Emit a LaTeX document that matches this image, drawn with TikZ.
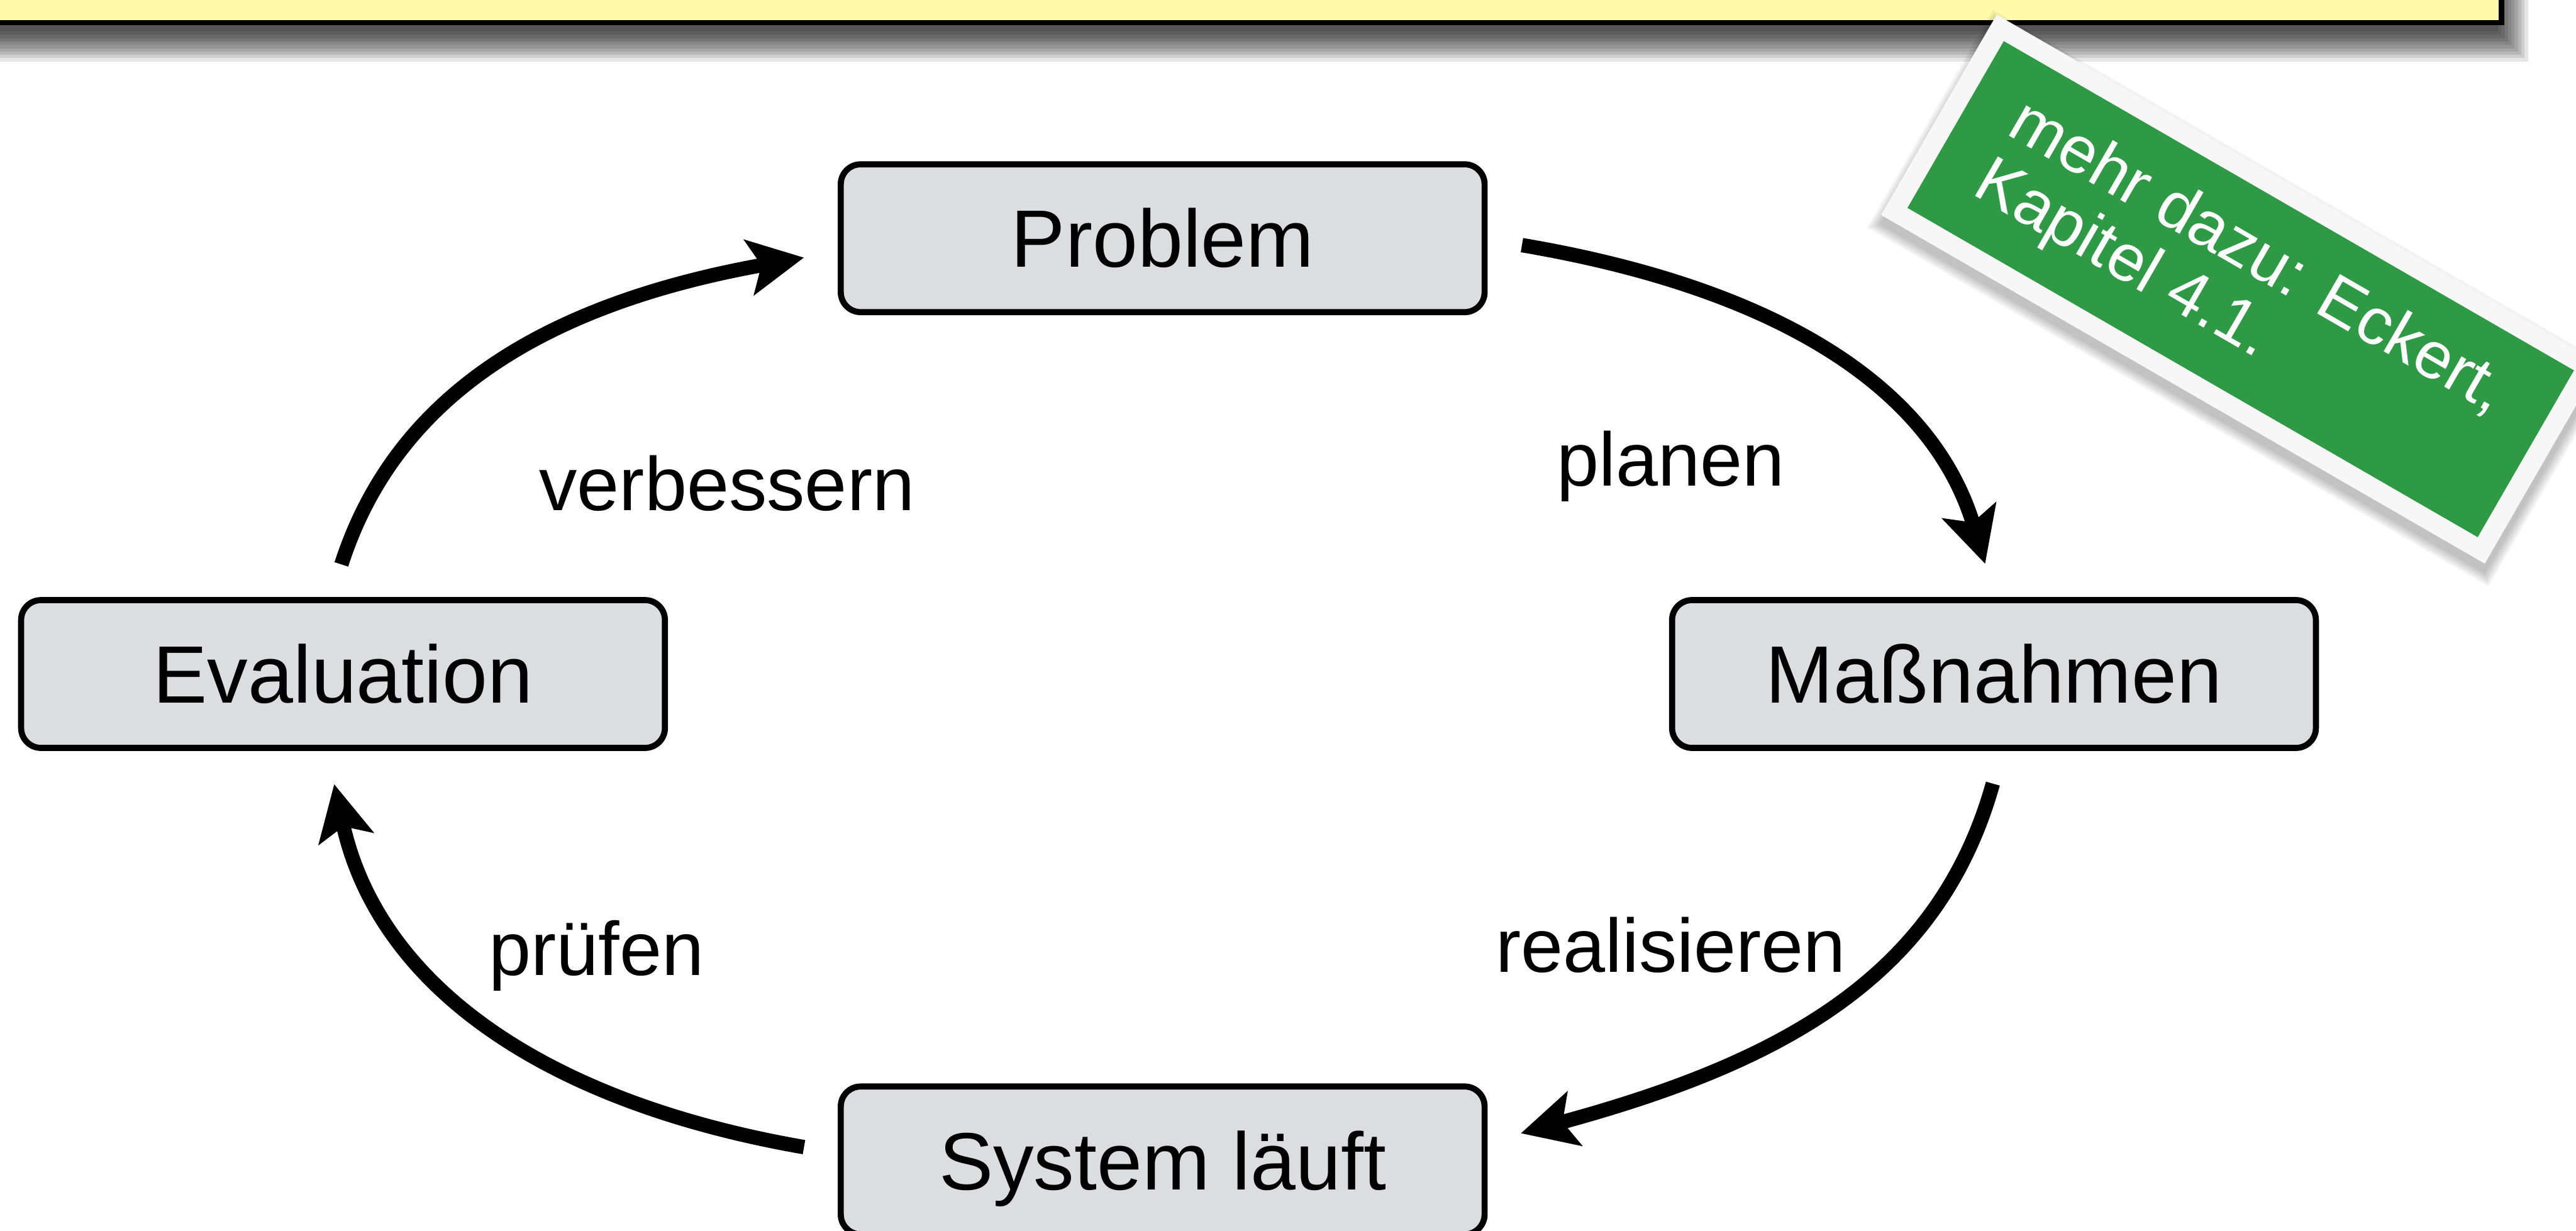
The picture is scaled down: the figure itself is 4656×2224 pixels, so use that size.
\documentclass[tikz,border=0pt]{standalone}
\usepackage{fontspec}
\setmainfont{Liberation Sans}
\usetikzlibrary{arrows.meta,calc}
\definecolor{noteyellow}{RGB}{255,251,170}
\definecolor{boxgray}{RGB}{220,221,223}
\definecolor{notegreen}{RGB}{46,154,69}
\begin{document}
\begin{tikzpicture}[x=0.01cm,y=-0.01cm,
  stepbox/.style={draw=black, line width=0.11cm, fill=boxgray, rounded corners=0.36cm,
    minimum width=11.63cm, minimum height=2.67cm, inner sep=0pt,
    font=\fontsize{41.8}{48}\selectfont, text height=1.05cm, text depth=0cm},
  lbl/.style={anchor=base, inner sep=0pt, font=\fontsize{39}{46}\selectfont},
  notetext/.style={anchor=base west, inner sep=0pt, text=white, rotate=-30,
    font=\fontsize{34}{35.6}\selectfont},
  arr/.style={line width=0.26cm, -{Stealth[length=1cm, width=1cm, inset=0.22cm]}}]
\useasboundingbox (0,0) rectangle (4656,2224);
\clip (0,0) rectangle (4656,2224);
\fill[white] (0,0) rectangle (4656,2224);

% yellow bar and its soft shadow
\foreach \s in {4,10,16,22,28,34,40,46,52,58}
  \fill[black, opacity=0.1] (-100,-100) rectangle (4511+\s,53+\s);
\fill[noteyellow] (-50,-50) rectangle (4521,41);
\draw[line width=0.1cm] (-50,41) -- (4521,41) -- (4521,-50);

% boxes
\node[stepbox] (prob) at (2101.5,430.5) {Problem};
\node[stepbox] (mass) at (3604,1218) {Maßnahmen};
\node[stepbox] (sys) at (2101.5,2097) {System läuft};
\node[stepbox] (eval) at (620,1218) {Evaluation};

% labels
\node[lbl] (lverb) at (1314,922) {verbessern};
\node[lbl] (lplan) at (3020,878) {planen};
\node[lbl] (lreal) at (3020,1757) {realisieren};
\node[lbl] (lpruf) at (1078,1763) {prüfen};

% arrows
\draw[arr] ($(prob.east)+(62,12.5)$) .. controls +(460,78) and +(-96,-320) .. ($(mass.north)+(-16,-60)$);
\draw[arr] ($(mass.south)+(-2,59)$) .. controls +(-98,350) and +(472,-128) .. ($(sys.east)+(60,-49)$);
\draw[arr] ($(sys.west)+(-61,-24)$) .. controls +(-470,-82) and +(80,364) .. ($(eval.south)+(-16,60)$);
\draw[arr] ($(eval.north)+(-3,-59)$) .. controls +(99,-308) and +(-463,83) .. ($(prob.west)+(-61,35)$);

% green note
\begin{scope}[shift={(4050,522.5)}, rotate=-30]
  \foreach \s in {2,6,10,14,18}
    \fill[black, opacity=0.05] (-630-\s+8,-209-\s+14) rectangle (630+\s+8,209+\s+14);
  \fill[white!97!black] (-630,-209) rectangle (630,209);
  \fill[notegreen] (-595,-174) rectangle (595,174);
  \node[notetext] (note) at (-510,-31) {\vtop{\hbox{mehr dazu: Eckert,}\hbox{Kapitel 4.1.}}};
\end{scope}
\end{tikzpicture}
\end{document}
